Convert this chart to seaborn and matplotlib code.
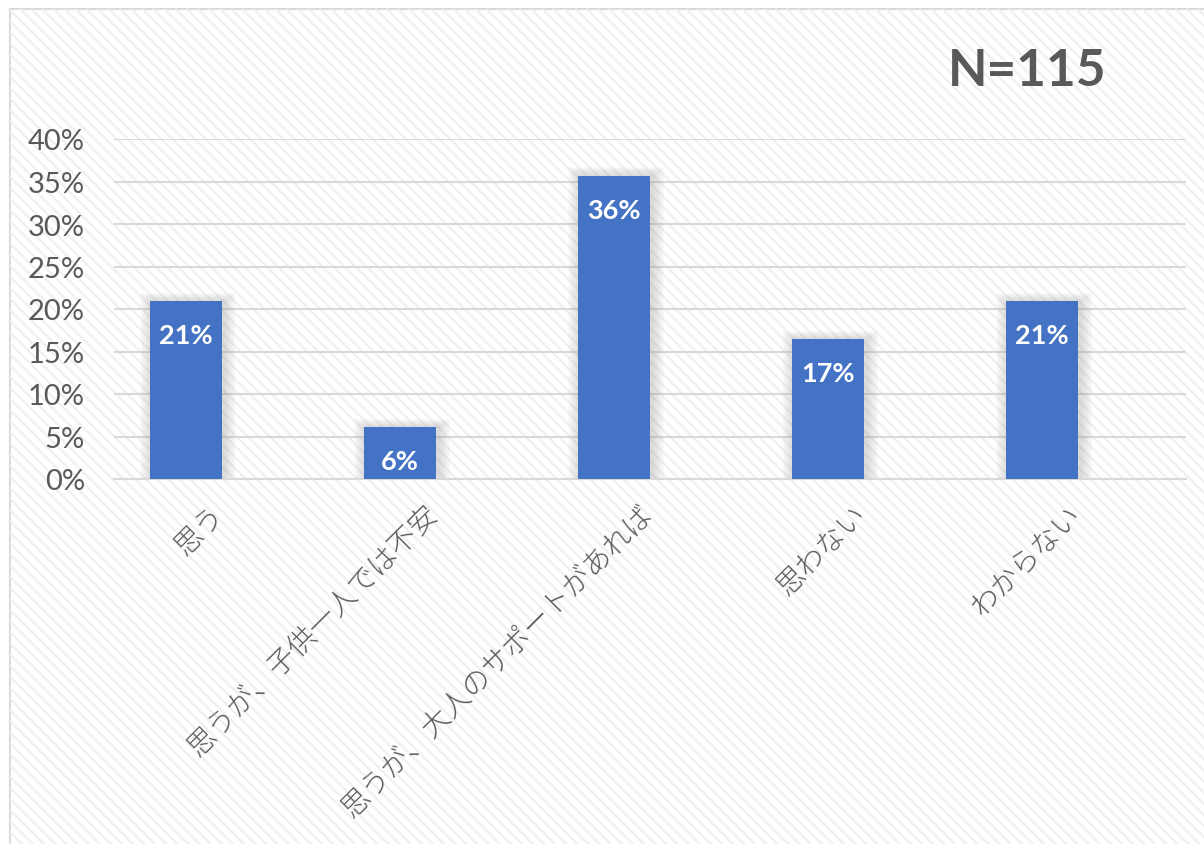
import matplotlib
matplotlib.use("Agg")
import matplotlib.pyplot as plt
import matplotlib.transforms as mtransforms
from matplotlib.patches import Rectangle
import seaborn as sns
import pandas as pd

categories = ["思う", "思うが、子供一人では不安", "思うが、大人のサポートがあれば", "思わない", "わからない"]
shares = [0.209, 0.061, 0.357, 0.165, 0.209]
bar_labels = ["21%", "6%", "36%", "17%", "21%"]
y_ticks = [0, 0.05, 0.10, 0.15, 0.20, 0.25, 0.30, 0.35, 0.40]
y_tick_labels = ["0%", "5%", "10%", "15%", "20%", "25%", "30%", "35%", "40%"]
n_label = "N=115"

sns.set_theme(style="white")
plt.rcParams["font.family"] = ["Lato", "Noto Sans CJK JP", "DejaVu Sans"]
plt.rcParams["hatch.color"] = "#f0f0f0"
plt.rcParams["hatch.linewidth"] = 1.6

GREY = "#595959"
BLUE = "#4472C4"

df = pd.DataFrame({"cat": categories, "share": shares})

fig = plt.figure(figsize=(12.04, 8.45), dpi=100)
W, H = 1204, 845

# hatched chart area with light border
bg = Rectangle((10 / W, -0.05), 1.1, 1 - 10 / H + 0.05, transform=fig.transFigure,
               facecolor="white", edgecolor="#d9d9d9", linewidth=1.5, zorder=-2)
hatch = Rectangle((10 / W, -0.05), 1.1, 1 - 10 / H + 0.05, transform=fig.transFigure,
                  facecolor="none", edgecolor="#f0f0f0", hatch="\\\\\\", linewidth=0,
                  zorder=-1)
fig.patches.extend([bg, hatch])

ax = fig.add_axes([114 / W, 365 / H, 1072 / W, 340 / H])
ax.set_facecolor("none")

# soft shadow behind bars
for i, v in enumerate(shares):
    for k in range(8, 0, -1):
        ax.bar(i + 0.01, v + 0.002 * k, width=0.336 + 0.014 * k, bottom=-0.0008 * k,
               color="#808080", alpha=0.035, linewidth=0, zorder=1)

sns.barplot(data=df, x="cat", y="share", color=BLUE, saturation=1, width=0.336,
            ax=ax, zorder=3, linewidth=0)

for i, (v, lab) in enumerate(zip(shares, bar_labels)):
    ax.annotate(lab, (i, v), xytext=(0, -34), textcoords="offset pixels",
                ha="center", va="center", color="white", fontsize=19.5,
                fontweight="bold", zorder=4)

ax.set_xlim(-0.336, 4.673)
ax.set_ylim(0, 0.40)
ax.set_yticks(y_ticks)
ax.set_yticklabels(y_tick_labels)
ax.yaxis.grid(True, color="#d9d9d9", linewidth=1.5, zorder=0)
ax.set_axisbelow(True)
for s in ["top", "right", "left"]:
    ax.spines[s].set_visible(False)
ax.spines["bottom"].set_color("#d9d9d9")
ax.spines["bottom"].set_linewidth(1.5)
ax.set_xlabel("")
ax.set_ylabel("")
ax.tick_params(axis="y", length=0, pad=21, labelsize=21, labelcolor=GREY)
ax.tick_params(axis="x", length=0, pad=0)

offset = mtransforms.ScaledTranslation(0.34, -0.30, fig.dpi_scale_trans)
for t in ax.get_xticklabels():
    t.set_rotation(45)
    t.set_ha("right")
    t.set_va("center")
    t.set_rotation_mode("anchor")
    t.set_fontsize(20.5)
    t.set_color(GREY)
    t.set_family(["Noto Sans CJK JP", "DejaVu Sans"])
    t.set_fontweight("light")
    t.set_transform(t.get_transform() + offset)

fig.text(1027 / W, 1 - 72 / H, n_label, ha="center", va="center", fontsize=37,
         fontweight="bold", color=GREY)

fig.savefig("out.png", dpi=100)
